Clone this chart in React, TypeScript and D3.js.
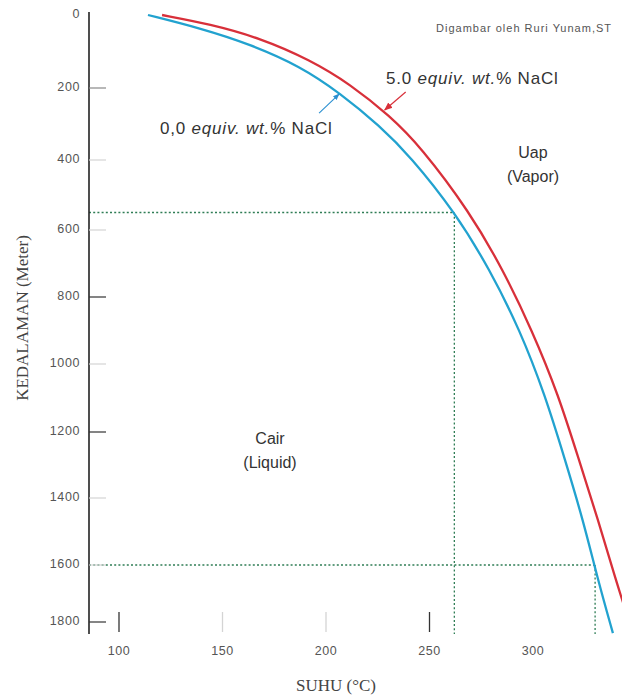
import React from "react";
import * as d3 from "d3";

// boiling point vs depth
const blueDepth = [0, 36, 80, 140, 214, 306, 389, 549, 719, 899, 1091, 1285, 1466, 1653, 1839];
const blueTemp = [114, 139.1, 163.3, 187.4, 206.8, 226.1, 240.6, 262.3, 279.2, 293.7, 305.8, 315.5, 324.2, 331.4, 338.6];

const redDepth = [0, 25, 63, 123, 189, 278, 361, 549, 719, 899, 1091, 1285, 1466, 1653, 1765, 1881];
const redTemp = [120.8, 144, 168.1, 192.3, 211.6, 230.9, 245.4, 269.5, 285.5, 299.5, 312.3, 322.2, 331.5, 340, 345, 350];

const depthTicks = [0, 200, 400, 600, 800, 1000, 1200, 1400, 1600, 1800];
const darkDepthTicks = [800, 1200, 1800];
const midDepthTicks = [200];
const tempTicks = [100, 150, 200, 250, 300];
const darkTempTicks = [100, 250];
const faintTempTicks = [150, 200];

// dotted guide lines (temp, depth)
const guideTemp = [262, 330];
const guideDepth = [550, 1600];

// where the label arrows touch the curves (depth)
const blueArrowDepth = 214;
const redArrowDepth = 264;

const W = 622;
const H = 698;
const axisX = 89;
const axisTop = 12;
const axisBottom = 634;
// hand drawn axis: tick spacing is not even
const yRange = [15, 88, 160, 230, 297, 364, 432, 498, 565, 622];

const App = () => {
  const x = d3.scaleLinear().domain([100, 300]).range([119, 533]);
  const y = d3.scaleLinear().domain(depthTicks).range(yRange);

  const line = d3
    .line<[number, number]>()
    .x((d) => x(d[0]))
    .y((d) => y(d[1]))
    .curve(d3.curveBasis);

  const blue = blueDepth.map((d, i) => [blueTemp[i], d] as [number, number]);
  const red = redDepth.map((d, i) => [redTemp[i], d] as [number, number]);

  const tempAt = (depths: number[], temps: number[], d: number) =>
    d3.scaleLinear().domain(depths).range(temps)(d);

  const bTip = [x(tempAt(blueDepth, blueTemp, blueArrowDepth)), y(blueArrowDepth)];
  const rTip = [x(tempAt(redDepth, redTemp, redArrowDepth)), y(redArrowDepth)];

  const sans = "'Liberation Sans', Arial, sans-serif";
  const serif = "'Liberation Serif', 'Times New Roman', serif";
  const dot = "#2f7d55";

  return (
    <svg
      width={W}
      height={H}
      style={{ position: "absolute", left: 0, top: 0, background: "#fff" }}
    >
      <defs>
        <marker id="ab" viewBox="0 0 10 10" refX="9" refY="5" markerWidth="6" markerHeight="6" orient="auto">
          <path d="M0,1 L10,5 L0,9 z" fill="#2a8fd0" />
        </marker>
        <marker id="ar" viewBox="0 0 10 10" refX="9" refY="5" markerWidth="7" markerHeight="7" orient="auto">
          <path d="M0,1 L10,5 L0,9 z" fill="#d8303a" />
        </marker>
      </defs>

      {/* dotted guides */}
      {guideTemp.map((t, i) => (
        <g key={"g" + i} stroke={dot} strokeWidth={1.3} strokeDasharray="2,2.2" fill="none">
          <line x1={axisX} x2={x(t)} y1={y(guideDepth[i])} y2={y(guideDepth[i])} />
          <line x1={x(t)} x2={x(t)} y1={y(guideDepth[i])} y2={axisBottom} />
        </g>
      ))}

      {/* y axis */}
      <line x1={axisX} x2={axisX} y1={axisTop} y2={axisBottom} stroke="#222" strokeWidth={1.6} />
      {depthTicks.map((d) => (
        <g key={"yt" + d}>
          {d > 0 && (
            <line
              x1={axisX}
              x2={axisX + 17}
              y1={y(d)}
              y2={y(d)}
              stroke={darkDepthTicks.includes(d) ? "#333" : midDepthTicks.includes(d) ? "#888" : "#d4d4d4"}
              strokeWidth={1.2}
            />
          )}
          <text
            x={80}
            y={y(d)}
            textAnchor="end"
            dominantBaseline="middle"
            fontFamily={sans}
            fontSize={12.5}
            letterSpacing={0.6}
            fill="#555"
          >
            {d}
          </text>
        </g>
      ))}

      {/* x ticks, no axis line */}
      {tempTicks.map((t) => (
        <g key={"xt" + t}>
          {(darkTempTicks.includes(t) || faintTempTicks.includes(t)) && (
            <line
              x1={x(t)}
              x2={x(t)}
              y1={612}
              y2={632}
              stroke={darkTempTicks.includes(t) ? "#333" : "#d4d4d4"}
              strokeWidth={1.3}
            />
          )}
          <text
            x={x(t)}
            y={652}
            textAnchor="middle"
            dominantBaseline="middle"
            fontFamily={sans}
            fontSize={12.5}
            letterSpacing={0.6}
            fill="#555"
          >
            {t}
          </text>
        </g>
      ))}

      {/* curves */}
      <path d={line(blue) || ""} fill="none" stroke="#22a2cf" strokeWidth={2.3} />
      <path d={line(red) || ""} fill="none" stroke="#d8303a" strokeWidth={2.3} />

      {/* arrows */}
      <line x1={bTip[0] - 21} y1={bTip[1] + 20} x2={bTip[0] - 1} y2={bTip[1] + 1} stroke="#2a8fd0" strokeWidth={1.1} markerEnd="url(#ab)" />
      <line x1={rTip[0] + 22} y1={rTip[1] - 19} x2={rTip[0] + 1} y2={rTip[1] - 1} stroke="#d8303a" strokeWidth={1.2} markerEnd="url(#ar)" />

      {/* labels */}
      <text x={386} y={84} fontFamily={sans} fontSize={17} letterSpacing={0.8} fill="#333">
        5.0 <tspan fontStyle="italic">equiv. wt.</tspan>% NaCl
      </text>
      <text x={160} y={134} fontFamily={sans} fontSize={17} letterSpacing={0.8} fill="#333">
        0,0 <tspan fontStyle="italic">equiv. wt.</tspan>% NaCl
      </text>
      <text x={533} y={158} textAnchor="middle" fontFamily={sans} fontSize={16} fill="#333">
        Uap
      </text>
      <text x={533} y={182} textAnchor="middle" fontFamily={sans} fontSize={16} fill="#333">
        (Vapor)
      </text>
      <text x={270} y={444} textAnchor="middle" fontFamily={sans} fontSize={16} fill="#333">
        Cair
      </text>
      <text x={270} y={468} textAnchor="middle" fontFamily={sans} fontSize={16} fill="#333">
        (Liquid)
      </text>
      <text x={612} y={32} textAnchor="end" fontFamily={sans} fontSize={11} letterSpacing={1} fill="#555">
        Digambar oleh Ruri Yunam,ST
      </text>

      {/* axis titles */}
      <text
        transform={`translate(24,318) rotate(-90)`}
        textAnchor="middle"
        dominantBaseline="middle"
        fontFamily={serif}
        fontSize={17}
        fill="#444"
      >
        KEDALAMAN (Meter)
      </text>
      <text x={336} y={687} textAnchor="middle" dominantBaseline="middle" fontFamily={serif} fontSize={17} fill="#444">
        SUHU (°C)
      </text>
    </svg>
  );
};

export default App;
